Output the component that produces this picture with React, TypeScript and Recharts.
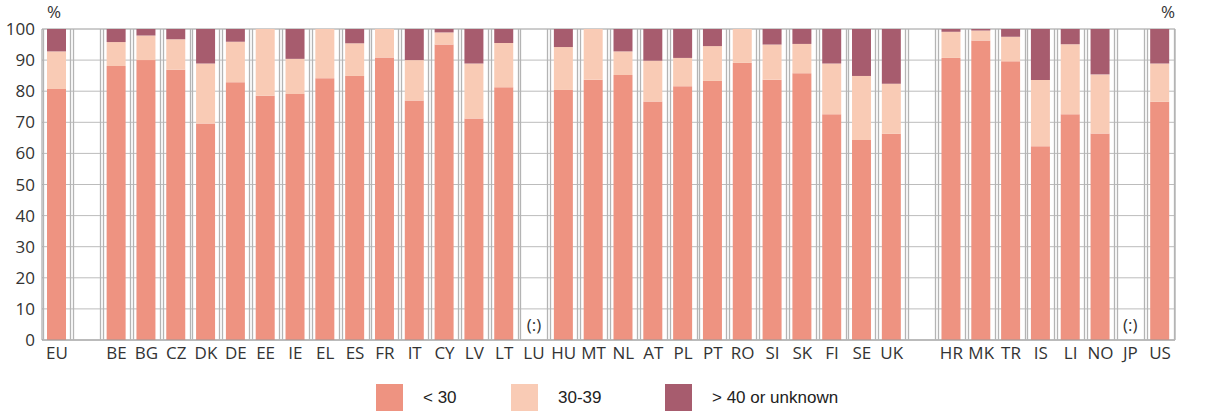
import React from "react";
import {
  BarChart,
  Bar,
  XAxis,
  YAxis,
  CartesianGrid,
  ReferenceDot,
} from "recharts";

const categories = [
  "EU", "gap1", "BE", "BG", "CZ", "DK", "DE", "EE", "IE", "EL", "ES", "FR", "IT",
  "CY", "LV", "LT", "LU", "HU", "MT", "NL", "AT", "PL", "PT", "RO", "SI", "SK",
  "FI", "SE", "UK", "gap2", "HR", "MK", "TR", "IS", "LI", "NO", "JP", "US",
];

// share of population by age band, in %
const under30 = [
  80.7, null, 88.1, 90.0, 86.9, 69.6, 82.9, 78.5, 79.1, 84.2, 84.9, 90.8, 77.0,
  95.0, 71.2, 81.3, null, 80.4, 83.7, 85.2, 76.7, 81.6, 83.3, 89.1, 83.7, 85.8,
  72.6, 64.3, 66.3, null, 90.7, 96.3, 89.6, 62.3, 72.6, 66.4, null, 76.6,
];
const from30to39 = [
  12.1, null, 7.7, 7.9, 9.8, 19.3, 13.0, 21.5, 11.3, 15.8, 10.5, 9.2, 13.0,
  3.9, 17.7, 14.2, null, 13.8, 16.3, 7.6, 13.1, 9.1, 11.2, 10.9, 11.3, 9.4,
  16.3, 20.6, 16.1, null, 8.4, 3.2, 7.9, 21.3, 22.5, 19.0, null, 12.3,
];
const over40 = [
  7.2, null, 4.2, 2.1, 3.3, 11.1, 4.1, 0, 9.6, 0, 4.6, 0, 10.0,
  1.1, 11.1, 4.5, null, 5.8, 0, 7.2, 10.2, 9.3, 5.5, 0, 5.0, 4.8,
  11.1, 15.1, 17.6, null, 0.9, 0.5, 2.5, 16.4, 4.9, 14.6, null, 11.1,
];

const missing = ["LU", "JP"];
const yTicks = [0, 10, 20, 30, 40, 50, 60, 70, 80, 90, 100];

const seriesNames = ["< 30", "30-39", "> 40 or unknown"];
const seriesColors = ["#ee9381", "#f9cbb5", "#a75c6e"];

const data = categories.map((name, i) => ({
  name,
  low: under30[i],
  mid: from30to39[i],
  high: over40[i],
}));

const W = 1215;
const H = 411;
const M_TOP = 29;
const LEFT_W = 42;
const RIGHT_W = 40;
const PLOT_BOTTOM = 340;

const gridColor = "#bcbcbc";
const frameColor = "#b4b4b4";
const axisColor = "#999";
const tickStyle = { fontFamily: "Open Sans", fontSize: 17, fill: "#333" };

// thin line pairs framing every category cell (same band layout as the x axis)
const CellFrames = () => {
  const plotW = W - LEFT_W - RIGHT_W;
  const band = plotW / categories.length;
  const xs: number[] = [];
  categories.forEach((_c, i) => {
    const cx = LEFT_W + band * (i + 0.5);
    xs.push(Math.round(cx - 13.5) + 0.5, Math.round(cx + 13.5) + 0.5);
  });
  return (
    <svg
      width={W}
      height={H}
      style={{ position: "absolute", left: 0, top: 0, pointerEvents: "none", zIndex: 2 }}
    >
      {xs.map((x, i) => (
        <line
          key={i}
          x1={x}
          x2={x}
          y1={M_TOP}
          y2={PLOT_BOTTOM}
          stroke={frameColor}
          strokeWidth={1.3}
        />
      ))}
    </svg>
  );
};

const PercentLabel = (side: "left" | "right") => (props: any) => {
  const vb = props.viewBox;
  const x = side === "left" ? vb.x + vb.width + 12 : vb.x - 7;
  return (
    <text x={x} y={vb.y - 11} textAnchor="middle" style={tickStyle} fill="#333">
      %
    </text>
  );
};

const Legend = () => (
  <div style={{ position: "absolute", left: 0, top: 384, width: W, height: 27 }}>
    {seriesNames.map((name, i) => (
      <div
        key={name}
        style={{ position: "absolute", left: [376, 511, 665][i], top: 0, display: "flex", alignItems: "center" }}
      >
        <div style={{ width: 27, height: 27, background: seriesColors[i] }} />
        <span
          style={{ marginLeft: 20, fontFamily: "Liberation Sans", fontSize: 17, color: "#222" }}
        >
          {name}
        </span>
      </div>
    ))}
  </div>
);

export default function App() {
  return (
    <div style={{ position: "absolute", left: 0, top: 0, width: W, height: H, background: "#fff" }}>
      <div style={{ position: "absolute", left: 0, top: 0, zIndex: 1 }}>
        <BarChart
          width={W}
          height={H}
          data={data}
          margin={{ top: M_TOP, right: 0, left: 0, bottom: H - PLOT_BOTTOM - 30 }}
          barSize={19}
        >
          <CartesianGrid stroke={gridColor} yAxisId="left" vertical={false} />
          <XAxis
            dataKey="name"
            height={30}
            tickLine={false}
            tickMargin={1}
            stroke={axisColor}
            tick={tickStyle}
            interval={0}
            tickFormatter={(v: string) => (v.startsWith("gap") ? "" : v)}
          />
          <YAxis
            yAxisId="left"
            width={LEFT_W}
            domain={[0, 100]}
            ticks={yTicks}
            tickLine={false}
            tickMargin={1}
            stroke={axisColor}
            tick={tickStyle}
            label={{ content: PercentLabel("left") }}
          />
          <YAxis
            yAxisId="right"
            orientation="right"
            width={RIGHT_W}
            domain={[0, 100]}
            ticks={yTicks}
            tickSize={5}
            tickMargin={2}
            stroke={axisColor}
            tick={tickStyle}
            label={{ content: PercentLabel("right") }}
          />
          <Bar
            yAxisId="left"
            dataKey="low"
            name={seriesNames[0]}
            stackId="a"
            fill={seriesColors[0]}
            isAnimationActive={false}
          />
          <Bar
            yAxisId="left"
            dataKey="mid"
            name={seriesNames[1]}
            stackId="a"
            fill={seriesColors[1]}
            isAnimationActive={false}
          />
          <Bar
            yAxisId="left"
            dataKey="high"
            name={seriesNames[2]}
            stackId="a"
            fill={seriesColors[2]}
            isAnimationActive={false}
          />
          {missing.map((c) => (
            <ReferenceDot
              key={c}
              yAxisId="left"
              x={c}
              y={5}
              r={0}
              shape={(p: any) => (
                <text x={p.cx} y={p.cy} textAnchor="middle" dominantBaseline="central" style={tickStyle}>
                  (:)
                </text>
              )}
            />
          ))}
        </BarChart>
      </div>
      <CellFrames />
      <Legend />
    </div>
  );
}
